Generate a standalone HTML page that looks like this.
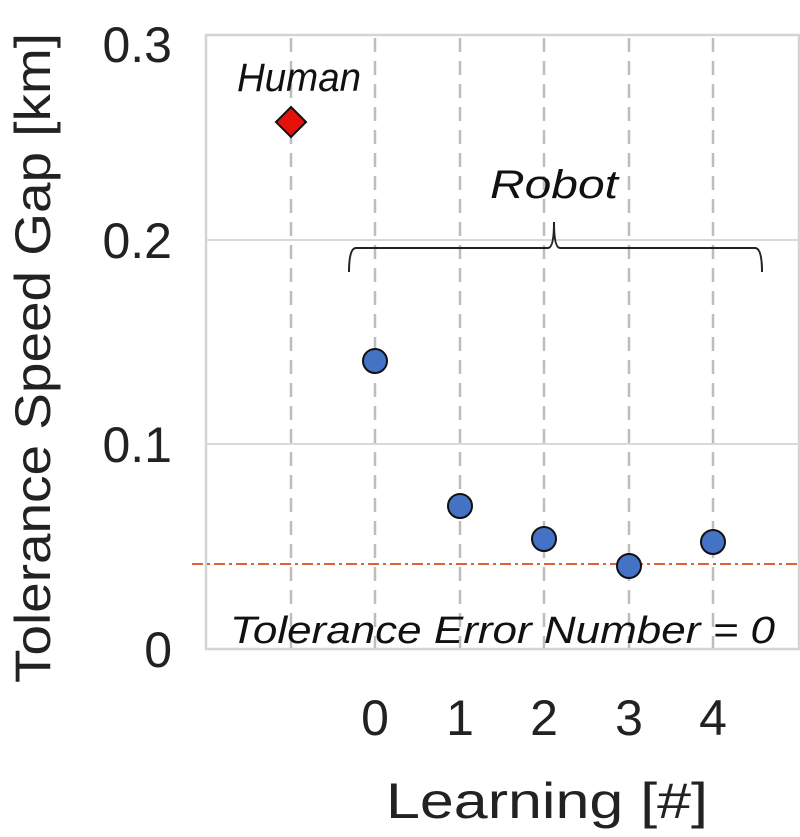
<!DOCTYPE html>
<html><head><meta charset="utf-8"><style>body{margin:0;background:#fff}svg{display:block}</style></head><body>
<svg width="800" height="837" viewBox="0 0 800 837" xmlns="http://www.w3.org/2000/svg" font-family="Liberation Sans, sans-serif">
<rect x="206" y="35" width="593" height="614" fill="none" stroke="#d4d4d4" stroke-width="2.5"/>
<line x1="206" y1="240" x2="799" y2="240" stroke="#d9d9d9" stroke-width="2"/>
<line x1="206" y1="444" x2="799" y2="444" stroke="#d9d9d9" stroke-width="2"/>
<g stroke="#bdbdbd" stroke-width="2.5" stroke-dasharray="14,9">
<line x1="291" y1="38" x2="291" y2="648"/><line x1="375" y1="38" x2="375" y2="648"/><line x1="460" y1="38" x2="460" y2="648"/><line x1="544" y1="38" x2="544" y2="648"/><line x1="629" y1="38" x2="629" y2="648"/><line x1="713" y1="38" x2="713" y2="648"/>
</g>
<line x1="192" y1="564" x2="799" y2="564" stroke="#e0603a" stroke-width="2" stroke-dasharray="11,4,3,4"/>
<path d="M349 272 Q349 248 356 248 L548 248 Q554 248 554 222 Q554 248 560 248 L755 248 Q762 248 762 272" fill="none" stroke="#222" stroke-width="2"/>
<polygon points="291,107 306,122 291,137 276,122" fill="#e3120b" stroke="#111" stroke-width="2"/>
<g fill="#4472c4" stroke="#111" stroke-width="2">
<circle cx="375" cy="361" r="12"/><circle cx="460" cy="506" r="12"/><circle cx="544" cy="539" r="12"/><circle cx="629" cy="566" r="12"/><circle cx="713" cy="542" r="12"/>
</g>
<g font-style="italic" fill="#111">
<text x="237" y="91" font-size="40" textLength="124" lengthAdjust="spacingAndGlyphs">Human</text>
<text x="490" y="198" font-size="40" textLength="128" lengthAdjust="spacingAndGlyphs">Robot</text>
<text x="230" y="643" font-size="38" textLength="545" lengthAdjust="spacingAndGlyphs">Tolerance Error Number = 0</text>
</g>
<g font-size="50" fill="#222" text-anchor="end">
<text x="172" y="62">0.3</text><text x="172" y="258">0.2</text><text x="172" y="462">0.1</text><text x="172" y="667">0</text>
</g>
<g font-size="50" fill="#222" text-anchor="middle">
<text x="375" y="735">0</text><text x="460" y="735">1</text><text x="544" y="735">2</text><text x="629" y="735">3</text><text x="713" y="735">4</text>
<text x="547" y="818" textLength="322" lengthAdjust="spacingAndGlyphs">Learning [#]</text>
<text transform="translate(50,358) rotate(-90)" textLength="650" lengthAdjust="spacingAndGlyphs">Tolerance Speed Gap [km]</text>
</g>
</svg>
</body></html>
